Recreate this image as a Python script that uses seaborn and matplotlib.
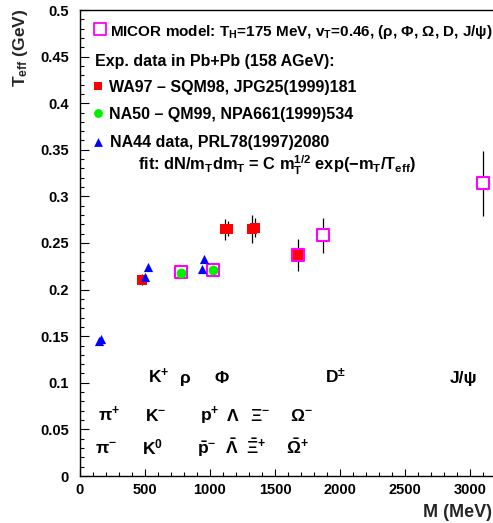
import numpy as np
import pandas as pd
import matplotlib
matplotlib.use("Agg")
import matplotlib.pyplot as plt
import seaborn as sns

# ---------------- data ----------------
# MICOR model (magenta open squares)
model_mass = [775, 1022, 1674, 1872, 3097]
model_teff = [0.2186, 0.221, 0.2372, 0.2583, 0.314]
model_err = [0.0, 0.0, 0.0, 0.0188, 0.035]

# WA97 (red squares)
wa97_mass = [478, 1114, 1140, 1325, 1348, 1674]
wa97_teff = [0.2105, 0.2645, 0.2655, 0.2650, 0.2665, 0.2372]
wa97_err = [0.006, 0.011, 0.008, 0.015, 0.010, 0.017]

# NA50 (green circles)
na50_mass = [775, 1026]
na50_teff = [0.2183, 0.2212]

# NA44 (blue triangles)
na44_mass = [146, 164, 500, 521, 936, 955]
na44_teff = [0.1445, 0.1475, 0.2138, 0.2239, 0.2218, 0.2328]

x_ticks = [0, 500, 1000, 1500, 2000, 2500, 3000]
x_ticklabels = ["0", "500", "1000", "1500", "2000", "2500", "3000"]
y_ticks = [0, 0.05, 0.1, 0.15, 0.2, 0.25, 0.3, 0.35, 0.4, 0.45, 0.5]
y_ticklabels = ["0", "0.05", "0.1", "0.15", "0.2", "0.25", "0.3", "0.35", "0.4", "0.45", "0.5"]

# particle labels: (text, x position in MeV, y baseline in GeV)
row1_labels = [r"K$^\mathregular{+}$", "ρ", "Φ", r"D$^\mathregular{±}$", "J/ψ"]
row1_x = [525, 770, 1035, 1885, 2846]
row2_labels = [r"π$^\mathregular{+}$", r"K$^\mathregular{-}$", r"p$^\mathregular{+}$", "Λ",
               r"Ξ$^\mathregular{-}$", r"Ω$^\mathregular{-}$"]
row2_x = [138, 500, 923, 1131, 1308, 1615]
row3_labels = [r"π$^\mathregular{-}$", r"K$^\mathregular{0}$", r"$\bar{\mathregular{p}}^\mathregular{-}$",
               r"$\bar{\mathregular{Λ}}$", r"$\bar{\mathregular{Ξ}}^\mathregular{+}$",
               r"$\bar{\mathregular{Ω}}^\mathregular{+}$"]
row3_x = [115, 477, 900, 1115, 1277, 1585]
row_y = [0.0995, 0.059, 0.0233]

legend_lines = [
    r"MICOR model: T$_\mathregular{H}$=175 MeV, v$_\mathregular{T}$=0.46, (ρ, Φ, Ω, D, J/ψ)",
    "Exp. data in Pb+Pb (158 AGeV):",
    "WA97 – SQM98, JPG25(1999)181",
    "NA50 – QM99, NPA661(1999)534",
    "NA44 data, PRL78(1997)2080",
    r"fit: dN/m$_\mathregular{T}$dm$_\mathregular{T}$ = C m$_\mathregular{T}^\mathregular{1/2}$ exp(−m$_\mathregular{T}$/T$_\mathregular{eff}$)",
]
legend_x = [231, 115, 225, 225, 231, 449]
legend_y = [0.472, 0.4402, 0.4123, 0.3827, 0.3533, 0.3283]
legend_size = [11, 11.5, 11.5, 11.5, 11.5, 11.8]

# ---------------- style ----------------
sns.set_theme(style="ticks")
plt.rcParams["font.family"] = ["Liberation Sans", "DejaVu Sans"]
plt.rcParams["font.weight"] = "bold"
plt.rcParams["mathtext.fontset"] = "custom"
plt.rcParams["mathtext.rm"] = "Liberation Sans:bold"
plt.rcParams["mathtext.it"] = "Liberation Sans:bold"
plt.rcParams["mathtext.bf"] = "Liberation Sans:bold"

W, H = 493, 523
fig = plt.figure(figsize=(W / 100, H / 100), dpi=100)
ax = fig.add_axes([80 / W, 47 / H, 416 / W, 466 / H])
ax.set_facecolor("white")
fig.patch.set_facecolor("white")

# error bars
ax.errorbar(model_mass, model_teff, yerr=model_err, fmt="none", ecolor="black",
            elinewidth=0.9, zorder=1)
ax.errorbar(wa97_mass, wa97_teff, yerr=wa97_err, fmt="none", ecolor="black",
            elinewidth=0.9, zorder=1)

dm = pd.DataFrame({"M": model_mass, "T": model_teff})
dw = pd.DataFrame({"M": wa97_mass, "T": wa97_teff})
dn50 = pd.DataFrame({"M": na50_mass, "T": na50_teff})
dn44 = pd.DataFrame({"M": na44_mass, "T": na44_teff})

sns.scatterplot(data=dm, x="M", y="T", ax=ax, marker="s", s=72, facecolor="white",
                edgecolor="#ff00ff", linewidth=1.5, zorder=2)
sns.scatterplot(data=dw, x="M", y="T", ax=ax, marker="s", s=44, color="#ff0000",
                linewidth=0, zorder=3)
sns.scatterplot(data=dn50, x="M", y="T", ax=ax, marker="o", s=50, color="#00ee00",
                linewidth=0, zorder=3)
sns.scatterplot(data=dn44, x="M", y="T", ax=ax, marker="^", s=44, color="#0000ff",
                linewidth=0, zorder=3)

# legend markers
ax.scatter([154], [0.4796], marker="s", s=72, facecolor="white", edgecolor="#ff00ff",
           linewidth=1.3, zorder=3)
ax.scatter([141], [0.4185], marker="s", s=40, color="#ff0000", linewidth=0, zorder=3)
ax.scatter([141], [0.3895], marker="o", s=40, color="#00ee00", linewidth=0, zorder=3)
ax.scatter([141], [0.3584], marker="^", s=40, color="#0000ff", linewidth=0, zorder=3)

for txt, xx, yy, fs in zip(legend_lines, legend_x, legend_y, legend_size):
    ax.text(xx, yy, txt, fontsize=fs, ha="left", va="baseline", color="black",
            clip_on=False)

for labels, xs, yy in zip([row1_labels, row2_labels, row3_labels],
                          [row1_x, row2_x, row3_x], row_y):
    for txt, xx in zip(labels, xs):
        ax.text(xx, yy, txt, fontsize=12.5, ha="left", va="baseline", color="black")

# axes
ax.set_xlim(0, 3200)
ax.set_ylim(0, 0.5)
ax.set_xticks(x_ticks)
ax.set_xticklabels(x_ticklabels)
ax.set_yticks(y_ticks)
ax.set_yticklabels(y_ticklabels)
ax.set_xticks(np.arange(0, 3201, 100), minor=True)
ax.set_yticks(np.arange(0, 0.501, 0.01), minor=True)
ax.tick_params(axis="both", which="both", direction="in", colors="black",
               labelsize=10.5, width=0.8, top=False, right=False)
ax.tick_params(axis="y", which="major", length=6.5, pad=8)
ax.tick_params(axis="y", which="minor", length=3)
ax.tick_params(axis="x", which="major", length=5, pad=5)
ax.tick_params(axis="x", which="minor", length=3)
for sp in ax.spines.values():
    sp.set_visible(True)
    sp.set_linewidth(1.0)
    sp.set_color("black")
ax.set_xlabel("")
ax.set_ylabel("")

fig.text(21 / W, 1 - 9 / H, r"T$_\mathregular{eff}$ (GeV)", rotation=90, fontsize=12.5,
         ha="center", va="top")
fig.text(423 / W, 1 - 517 / H, "M (MeV)", fontsize=13, ha="left", va="baseline")

fig.savefig("out.png", dpi=100)
